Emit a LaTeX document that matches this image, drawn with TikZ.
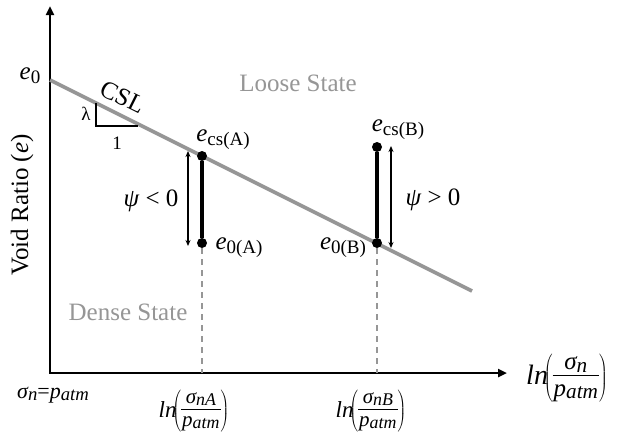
\documentclass[tikz,border=0pt]{standalone}
\usepackage{fontspec}
\setmainfont{Liberation Serif}
\usetikzlibrary{arrows.meta}
\newcommand\lsub[1]{\raisebox{-0.35ex}{\fontsize{19}{19}\selectfont #1}}
\newcommand\fsub[1]{\raisebox{-0.2ex}{\fontsize{0.85em}{1em}\selectfont #1}}
\newcommand\lnfrac[4]{\textit{ln}$\!\left(\vcenter{\hbox{\fontsize{#3}{#3}\selectfont\itshape\tabcolsep=1pt\begin{tabular}{c}#1\\[#4]\noalign{\hrule height 1.1pt}\rule{0pt}{0.8em}#2\end{tabular}}}\right)$}
\begin{document}
\begin{tikzpicture}[x=1pt,y=-1pt,
  axis/.style={line width=2.6pt,black},
  csl/.style={line width=3.6pt,color=csgray},
  seg/.style={line width=3.6pt,black},
  dot/.style={circle,fill=black,inner sep=0pt,minimum size=10pt},
  dbl/.style={line width=1.1pt,{Stealth[length=6pt,width=5pt]}-{Stealth[length=6pt,width=5pt]}},
  guide/.style={line width=1.4pt,color=csgray,dash pattern=on 6pt off 5pt},
  lbl/.style={font=\fontsize{25}{28}\selectfont,inner sep=0pt},
  lnl/.style={font=\fontsize{23}{25}\selectfont,inner sep=0pt},
  lnr/.style={font=\fontsize{28}{30}\selectfont,inner sep=0pt},
  small/.style={font=\fontsize{19}{20}\selectfont,inner sep=0pt},
  state/.style={font=\fontsize{25}{28}\selectfont,text=csgray,inner sep=0pt}]
\definecolor{csgray}{RGB}{150,150,150}
\useasboundingbox (0,0) rectangle (622,432);
% axes
\coordinate (ytip) at (50,6);
\coordinate (O) at (50,373);
\coordinate (xtip) at (507,373);
\draw[axis,{Triangle[length=9pt,width=8pt]}-{Triangle[length=9pt,width=8pt]}] (ytip) -- (O) -- (xtip);
% CSL
\coordinate (e0) at (50,80);
\coordinate (cslend) at (472,291);
\draw[csl] (e0) -- (cslend);
% slope triangle
\coordinate (t1) at (96,103);
\coordinate (t2) at (96,126);
\coordinate (t3) at (138,126);
\draw[line width=1.4pt] (t1) -- (t2) -- (t3);
\node[small] (lam) at (86,114) {λ};
\node[small] (one) at (117,143) {1};
\node[lbl,rotate=-26.6] (csltext) at (123,97) {CSL};
\node[lbl] (e0lab) at (30,76) {\textit{e}\lsub{0}};
% points
\node[dot] (csA) at (202,156) {};
\node[dot] (e0A) at (202,243) {};
\node[dot] (csB) at (377,147) {};
\node[dot] (e0B) at (377,243) {};
\draw[seg] (csA) -- (e0A);
\draw[seg] (csB) -- (e0B);
\coordinate (fA) at (202,373);
\coordinate (fB) at (377,373);
\draw[guide] (e0A) -- (fA);
\draw[guide] (e0B) -- (fB);
% psi arrows
\coordinate (aA1) at (188,151);
\coordinate (aA2) at (188,246);
\coordinate (aB1) at (391,146);
\coordinate (aB2) at (391,248);
\draw[dbl] (aA1) -- (aA2);
\draw[dbl] (aB1) -- (aB2);
\node[lbl] (psiA) at (151,201) {\textit{ψ} < 0};
\node[lbl] (psiB) at (433,200) {\textit{ψ} > 0};
% point labels
\node[lbl] (lcsA) at (223,140) {\textit{e}\lsub{cs(A)}};
\node[lbl] (le0A) at (239,248) {\textit{e}\lsub{0(A)}};
\node[lbl] (lcsB) at (398,130) {\textit{e}\lsub{cs(B)}};
\node[lbl] (le0B) at (343,248) {\textit{e}\lsub{0(B)}};
% states
\node[state] (loose) at (298,83) {Loose State};
\node[state] (dense) at (128,312) {Dense State};
% axis titles
\node[lbl,rotate=90] (ylab) at (22,205) {Void Ratio (\textit{e})};
\node[font=\fontsize{22}{24}\selectfont,inner sep=0pt] (orig) at (53,395) {\textit{σ\fsub{n}}=\textit{p\fsub{atm}}};
\node[lnl] (lnA) at (194,411) {\lnfrac{σ\fsub{nA}}{p\fsub{atm}}{21}{-1pt}};
\node[lnl] (lnB) at (371,411) {\lnfrac{σ\fsub{nB}}{p\fsub{atm}}{21}{-1pt}};
\node[lnr] (lnX) at (567,378) {\lnfrac{σ\fsub{n}}{p\fsub{atm}}{25}{-2pt}};
\end{tikzpicture}
\end{document}
